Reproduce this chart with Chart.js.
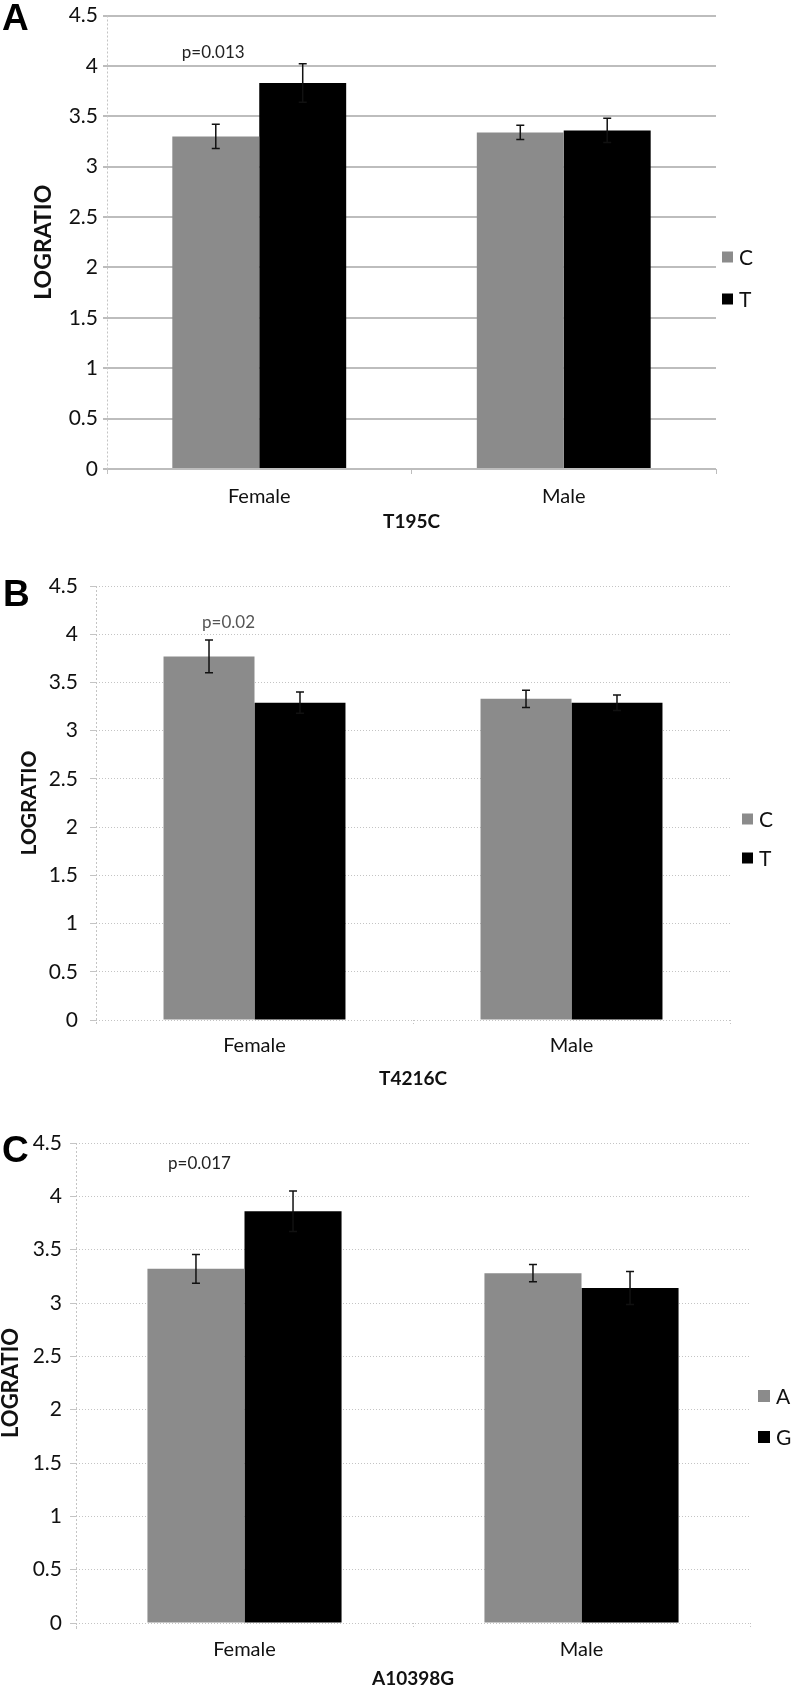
<!DOCTYPE html>
<html>
<head>
<meta charset="utf-8">
<script src="https://cdn.jsdelivr.net/npm/chart.js@4.4.1/dist/chart.umd.min.js"></script>
<style>
  body { margin: 0; background: #fff; width: 792px; height: 1691px; position: relative; overflow: hidden; }
  canvas { position: absolute; left: 0; }
</style>
</head>
<body>
<canvas id="chartA" width="792" height="560" style="top:0"></canvas>
<canvas id="chartB" width="792" height="560" style="top:560px"></canvas>
<canvas id="chartC" width="792" height="571" style="top:1120px"></canvas>
<script>
const groups = ['Female', 'Male'];
const yTickValues = [0, 0.5, 1, 1.5, 2, 2.5, 3, 3.5, 4, 4.5];
const yTickLabels = ['0', '0.5', '1', '1.5', '2', '2.5', '3', '3.5', '4', '4.5'];

// A: T195C
const allelesA = ['C', 'T'];
const meanA_C = [3.30, 3.34];
const meanA_T = [3.83, 3.36];
const errA_C = [0.12, 0.07];
const errA_T = [0.19, 0.12];

// B: T4216C
const allelesB = ['C', 'T'];
const meanB_C = [3.77, 3.33];
const meanB_T = [3.29, 3.29];
const errB_C = [0.17, 0.09];
const errB_T = [0.11, 0.08];

// C: A10398G
const allelesC = ['A', 'G'];
const meanC_A = [3.32, 3.28];
const meanC_G = [3.86, 3.14];
const errC_A = [0.135, 0.08];
const errC_G = [0.19, 0.155];

const GRAY = '#8b8b8b';
const BLACK = '#000000';
const FONT = 'Lato, "Open Sans", sans-serif';

const errorBars = {
  id: 'errorBars',
  afterDatasetsDraw(chart) {
    const ctx = chart.ctx, y = chart.scales.y;
    chart.data.datasets.forEach((ds, i) => {
      chart.getDatasetMeta(i).data.forEach((bar, j) => {
        const v = ds.data[j], e = ds.errors[j];
        const top = y.getPixelForValue(v + e), bot = y.getPixelForValue(v - e);
        ctx.save();
        ctx.strokeStyle = '#111';
        ctx.lineWidth = 1.5;
        ctx.beginPath();
        ctx.moveTo(bar.x, top); ctx.lineTo(bar.x, bot);
        ctx.moveTo(bar.x - 4, top); ctx.lineTo(bar.x + 4, top);
        ctx.moveTo(bar.x - 4, bot); ctx.lineTo(bar.x + 4, bot);
        ctx.stroke();
        ctx.restore();
      });
    });
  }
};

// panel letter, p-value, legend, dotted left axis
const extras = {
  id: 'extras',
  beforeDatasetsDraw(chart, args, o) {
    const ctx = chart.ctx, a = chart.chartArea;
    ctx.save();
    ctx.strokeStyle = '#c4c4c4';
    ctx.lineWidth = 1;
    ctx.setLineDash([2, 2]);
    ctx.beginPath();
    ctx.moveTo(a.left + 0.5, a.top);
    ctx.lineTo(a.left + 0.5, a.bottom + 6);
    ctx.stroke();
    ctx.restore();
  },
  afterDraw(chart, args, o) {
    const ctx = chart.ctx;
    ctx.save();
    ctx.fillStyle = '#000';
    ctx.font = 'bold 37px "Liberation Sans", Arial, sans-serif';
    ctx.textBaseline = 'alphabetic';
    ctx.textAlign = 'left';
    ctx.fillText(o.letter, o.letterX, o.letterY);

    const px = chart.scales.x.getPixelForValue(0) + o.pDx;
    const py = chart.scales.y.getPixelForValue(o.pValue);
    ctx.fillStyle = o.pColor;
    ctx.font = '17px ' + FONT;
    ctx.textAlign = 'center';
    ctx.textBaseline = 'middle';
    ctx.fillText(o.pText, px, py);

    ctx.font = '21px ' + FONT;
    ctx.textAlign = 'left';
    chart.data.datasets.forEach((ds, i) => {
      const cy = o.legendYs[i];
      ctx.fillStyle = ds.backgroundColor;
      ctx.fillRect(o.legendX, cy - o.box / 2, o.box, o.box);
      ctx.fillStyle = '#111';
      ctx.fillText(ds.label, o.legendX + o.box + 6, cy + 1);
    });
    ctx.restore();
  }
};

function makePanel(id, p) {
  const H = document.getElementById(id).height;
  const gridColor = p.solid ? '#bdbdbd' : '#c4c4c4';
  return new Chart(document.getElementById(id), {
    type: 'bar',
    data: {
      labels: groups,
      datasets: [
        { label: p.names[0], data: p.means[0], errors: p.errs[0], backgroundColor: GRAY,
          categoryPercentage: p.catPct, barPercentage: 1 },
        { label: p.names[1], data: p.means[1], errors: p.errs[1], backgroundColor: BLACK,
          categoryPercentage: p.catPct, barPercentage: 1 }
      ]
    },
    options: {
      responsive: false,
      animation: false,
      devicePixelRatio: 1,
      layout: { padding: { left: 0, top: p.area.top, right: 792 - p.area.right, bottom: 0 } },
      plugins: {
        legend: { display: false },
        tooltip: { enabled: false },
        extras: p.extras
      },
      scales: {
        x: {
          afterFit(s) { s.height = H - p.area.bottom; },
          grid: { drawOnChartArea: false, drawTicks: true, tickLength: p.xTick, color: gridColor,
                  tickBorderDash: p.solid ? [] : [1, 2] },
          border: { display: false },
          ticks: { color: '#111', padding: p.xPad, font: { family: FONT, size: 20, lineHeight: 1.2 } },
          title: { display: true, text: p.title, color: '#111',
                   font: { family: FONT, size: 19, weight: 'bold', lineHeight: 1.2 },
                   padding: { top: 0, bottom: p.xTitlePad } }
        },
        y: {
          min: 0, max: 4.5,
          afterFit(s) { s.width = p.area.left; },
          afterBuildTicks(s) { s.ticks = yTickValues.map(v => ({ value: v })); },
          grid: { color: gridColor, lineWidth: p.solid ? 2 : 1, tickLength: p.yTick },
          border: { display: false, dash: p.solid ? [] : [1, 2] },
          ticks: { color: '#111', padding: p.yPad, callback: (v, i) => yTickLabels[i],
                   font: { family: FONT, size: 21, lineHeight: 1 } },
          title: { display: true, text: 'LOGRATIO', color: '#111',
                   font: { family: FONT, size: p.yTitleSize, weight: 'bold', lineHeight: 1 },
                   padding: { top: p.yTitlePad, bottom: 0 } }
        }
      }
    },
    plugins: [errorBars, extras]
  });
}

makePanel('chartA', {
  names: allelesA, means: [meanA_C, meanA_T], errs: [errA_C, errA_T],
  title: 'T195C', solid: true, catPct: 0.571,
  area: { left: 107, right: 716, top: 11, bottom: 469 },
  xTick: 5, xPad: 11, xTitlePad: 27, yTick: 4, yPad: 5, yTitleSize: 23, yTitlePad: 32,
  extras: { letter: 'A', letterX: 2, letterY: 30, pText: 'p=0.013', pDx: -46, pValue: 4.13,
            pColor: '#222', legendX: 722, legendYs: [257, 299], box: 11 }
});

makePanel('chartB', {
  names: allelesB, means: [meanB_C, meanB_T], errs: [errB_C, errB_T],
  title: 'T4216C', solid: false, catPct: 0.574,
  area: { left: 96, right: 730, top: 26, bottom: 460 },
  xTick: 6, xPad: 8, xTitlePad: 30, yTick: 6, yPad: 12, yTitleSize: 21, yTitlePad: 19,
  extras: { letter: 'B', letterX: 3, letterY: 46, pText: 'p=0.02', pDx: -26, pValue: 4.12,
            pColor: '#555', legendX: 742, legendYs: [259, 298], box: 11 }
});

makePanel('chartC', {
  names: allelesC, means: [meanC_A, meanC_G], errs: [errC_A, errC_G],
  title: 'A10398G', solid: false, catPct: 0.576,
  area: { left: 76, right: 750, top: 23, bottom: 503 },
  xTick: 6, xPad: 9, xTitlePad: 1, yTick: 6, yPad: 8, yTitleSize: 22, yTitlePad: 0,
  extras: { letter: 'C', letterX: 2, letterY: 42, pText: 'p=0.017', pDx: -45, pValue: 4.31,
            pColor: '#222', legendX: 758, legendYs: [276, 317], box: 12 }
});
</script>
</body>
</html>
